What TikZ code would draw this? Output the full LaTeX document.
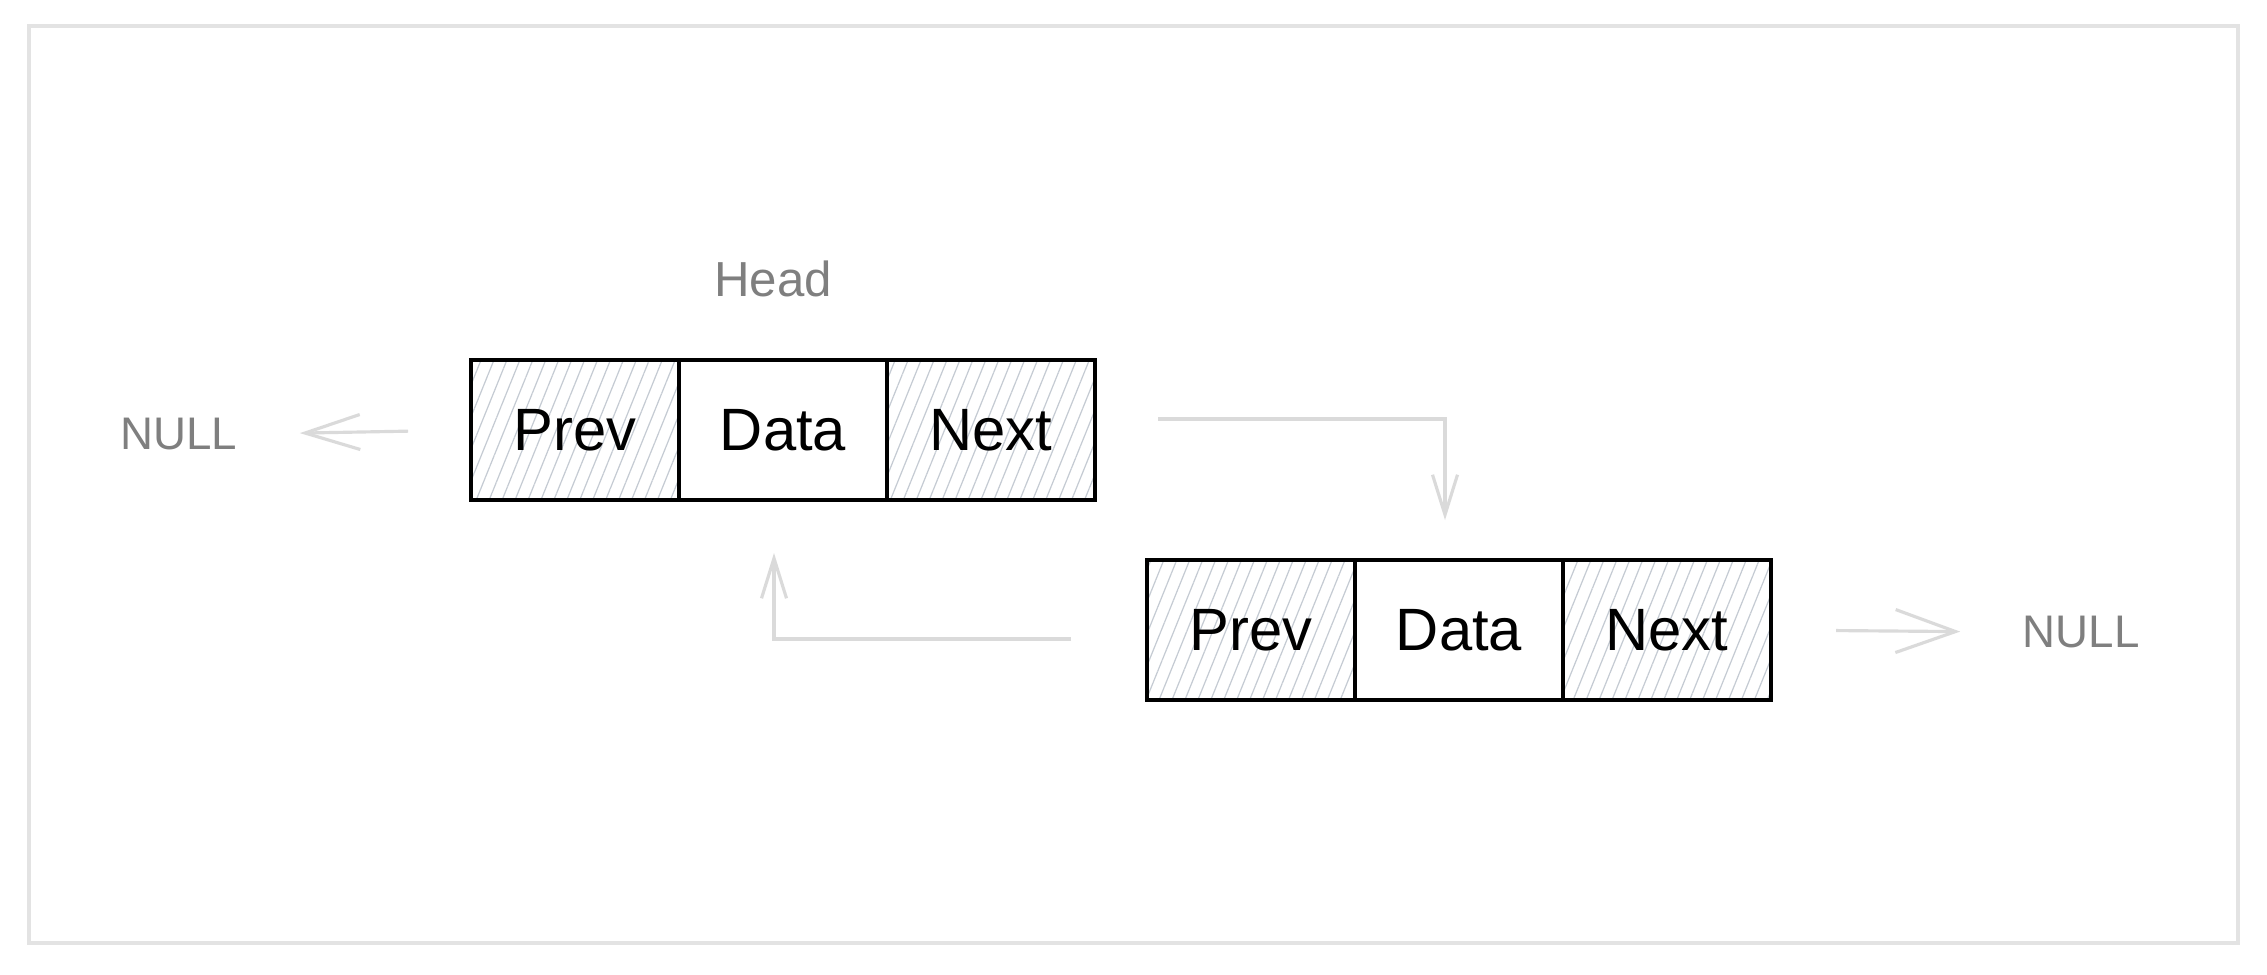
\documentclass[tikz,border=0pt]{standalone}
\usepackage{fontspec}
\setmainfont{Liberation Sans}
\usetikzlibrary{arrows.meta, positioning, patterns.meta}
\definecolor{inkgray}{HTML}{7F7F7F}
\definecolor{linkgray}{HTML}{DADADA}
\definecolor{hatchgray}{HTML}{C5CBD3}
\definecolor{framegray}{HTML}{E3E3E3}

\begin{document}
\begin{tikzpicture}[
	x=0.1mm, y=-0.1mm,
	>={Straight Barb[length=4mm, width=2.5mm]},
	field/.style={
		draw=black, line width=1.2pt, outer sep=0pt, inner sep=0pt,
		minimum width=20.8mm, minimum height=14mm,
		font=\fontsize{17}{20}\selectfont
	},
	hatched/.style={field,
		pattern={Lines[angle=68, distance=1.2mm, line width=0.35pt]},
		pattern color=hatchgray},
	greytext/.style={text=inkgray, font=\fontsize{13}{15}\selectfont},
	link/.style={->, draw=linkgray, line width=0.9pt}
	]
	
	% ==========================================
	% Canvas and frame
	% ==========================================
	\useasboundingbox (0,0) rectangle (2267,974);
	\draw[framegray, line width=0.9pt] (29,26) rectangle (2238,943);
	
	% ==========================================
	% First node (head)
	% ==========================================
	\node[hatched] (prev1) at (575,430) {Prev};
	\node[field, right=0pt of prev1] (data1) {Data};
	\node[hatched, right=0pt of data1] (next1) {Next};
	\node[greytext, font=\fontsize{14}{16}\selectfont] (head) at (773,279) {Head};
	
	% ==========================================
	% Second node
	% ==========================================
	\node[hatched] (prev2) at (1251,630) {Prev};
	\node[field, right=0pt of prev2] (data2) {Data};
	\node[hatched, right=0pt of data2] (next2) {Next};
	
	% NULL ends
	\node[greytext] (nullL) at (179,434) {NULL};
	\node[greytext] (nullR) at (2081,632) {NULL};
	
	% ==========================================
	% Links
	% ==========================================
	
	% next pointer of the head
	\draw[link] ([xshift=6.3mm, yshift=1.1mm]next1.east) -| ([xshift=-1.4mm, yshift=4mm]data2.north);
	
	% prev pointer of the second node
	\draw[link] ([xshift=-7.6mm, yshift=-0.9mm]prev2.west) -| ([xshift=-0.9mm, yshift=-5.3mm]data1.south);
	
	% pointers to NULL
	\draw[link, >={Straight Barb[length=5.5mm, width=3.5mm]}, shorten <=6.3mm, shorten >=5mm]
	(prev1.west) -- (nullL.east);
	\draw[link, >={Straight Barb[length=6mm, width=4.3mm]}, shorten <=6.5mm, shorten >=5mm]
	(next2.east) -- (nullR.west);
\end{tikzpicture}
\end{document}
